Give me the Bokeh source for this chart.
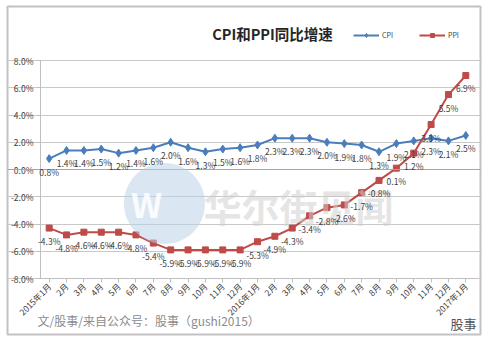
import math
from bokeh.plotting import figure
from bokeh.models import (Range1d, FixedTicker, PrintfTickFormatter, ColumnDataSource,
                          LabelSet, Label, Legend, LegendItem, Span)
from bokeh.core.properties import value
from bokeh.embed import file_html
from bokeh.resources import INLINE

months = ["2015年1月", "2月", "3月", "4月", "5月", "6月", "7月", "8月", "9月", "10月", "11月", "12月",
          "2016年1月", "2月", "3月", "4月", "5月", "6月", "7月", "8月", "9月", "10月", "11月", "12月",
          "2017年1月"]
cpi = [0.8, 1.4, 1.4, 1.5, 1.2, 1.4, 1.6, 2.0, 1.6, 1.3, 1.5, 1.6,
       1.8, 2.3, 2.3, 2.3, 2.0, 1.9, 1.8, 1.3, 1.9, 2.1, 2.3, 2.1,
       2.5]
ppi = [-4.3, -4.8, -4.6, -4.6, -4.6, -4.8, -5.4, -5.9, -5.9, -5.9, -5.9, -5.9,
       -5.3, -4.9, -4.3, -3.4, -2.8, -2.6, -1.7, -0.8, 0.1, 1.2, 3.3, 5.5,
       6.9]
y_ticks = [-8, -6, -4, -2, 0, 2, 4, 6, 8]
title_text = "CPI和PPI同比增速"
caption = "文/股事/来自公众号：股事（gushi2015）"
signature = "股事"
watermark = "华尔街见闻"

FONT = "Noto Sans CJK SC"
CPI_C = "#4A7EBB"
PPI_C = "#BE4B48"

W, H = 490, 345
# outer chart box (the bokeh frame) in canvas pixels
FL, FT, FR, FB = 7, 6, 480, 334
# plot area inside the canvas: x 40..474, y 60 (8%) .. 278 (-8%)
PX_L, PX_R, PY_T, PY_B = 40, 474, 60, 278
n = len(months)
xu = (PX_R - PX_L) / n
yu = (PY_B - PY_T) / 16.0
x_start = -0.5 - (PX_L - FL) / xu
x_end = n - 0.5 + (FR - PX_R) / xu
y_end = 8 + (PY_T - FT) / yu
y_start = -8 - (FB - PY_B) / yu


def sx(xc):
    return xc - FL


def sy(yc):
    return FB - yc


xs = list(range(n))
src = ColumnDataSource(dict(
    x=xs, cpi=cpi, ppi=ppi,
    cpi_lbl=[f"{v:.1f}%" for v in cpi],
    ppi_lbl=[f"{v:.1f}%" for v in ppi],
))

p = figure(width=W, height=H, output_backend="svg", toolbar_location=None,
           x_range=Range1d(x_start, x_end), y_range=Range1d(y_start, y_end),
           min_border_left=FL, min_border_right=W - FR, min_border_top=FT, min_border_bottom=H - FB,
           background_fill_color="white", border_fill_color="white")
p.outline_line_color = "#c2c2c2"
p.outline_line_width = 2
p.xgrid.grid_line_color = None
p.ygrid.grid_line_color = "#c8c8c8"
p.ygrid.ticker = FixedTicker(ticks=y_ticks)
p.ygrid.bounds = (-0.5, n - 0.5)

# y axis, pinned at the left edge of the category span
p.yaxis.fixed_location = -0.5
p.yaxis.bounds = (-8, 8)
p.yaxis.ticker = FixedTicker(ticks=y_ticks)
p.yaxis.formatter = PrintfTickFormatter(format="%.1f%%")
p.yaxis.axis_line_color = "#bfbfbf"
p.yaxis.major_tick_line_color = "#bfbfbf"
p.yaxis.major_tick_out = 3
p.yaxis.major_tick_in = 0
p.yaxis.minor_tick_line_color = None
p.yaxis.major_label_text_font = FONT
p.yaxis.major_label_text_font_size = "8.5px"
p.yaxis.major_label_text_color = "#404040"
p.yaxis.major_label_standoff = 4

# x axis, pinned at -8%
p.xaxis.fixed_location = -8
p.xaxis.bounds = (-0.5, n - 0.5)
p.xaxis.ticker = FixedTicker(ticks=xs)
p.xaxis.major_label_overrides = {i: m for i, m in enumerate(months)}
p.xaxis.major_label_orientation = math.pi / 4
p.xaxis.axis_line_color = "#bfbfbf"
p.xaxis.major_tick_line_color = "#bfbfbf"
p.xaxis.major_tick_out = 4
p.xaxis.major_tick_in = 0
p.xaxis.minor_tick_line_color = None
p.xaxis.major_label_text_font = FONT
p.xaxis.major_label_text_font_size = "8.5px"
p.xaxis.major_label_text_color = "#404040"
p.xaxis.major_label_standoff = 2

# zero line
p.add_layout(Span(location=0, dimension="width", line_color="#a6a6a6", line_width=1))

# watermark
p.add_layout(Label(x=sx(164), y=sy(198), x_units="screen", y_units="screen", text="●",
                   text_font=FONT, text_font_size="90px", text_color="#bcd3ea",
                   text_alpha=0.55, text_align="center", text_baseline="middle"))
p.add_layout(Label(x=sx(146), y=sy(203), x_units="screen", y_units="screen", text="W",
                   text_font=FONT, text_font_size="34px", text_color="white",
                   text_alpha=0.85, text_align="center", text_baseline="middle",
                   text_font_style="bold"))
p.add_layout(Label(x=sx(298), y=sy(205), x_units="screen", y_units="screen", text=watermark,
                   text_font=FONT, text_font_size="38px", text_color="#cfcfcf",
                   text_alpha=0.55, text_align="center", text_baseline="middle",
                   text_font_style="bold"))

# lines
r_cpi_l = p.line("x", "cpi", source=src, line_color=CPI_C, line_width=2)
r_cpi_m = p.scatter("x", "cpi", source=src, marker="diamond", size=8, fill_color=CPI_C, line_color=CPI_C)
r_ppi_l = p.line("x", "ppi", source=src, line_color=PPI_C, line_width=2)
r_ppi_m = p.scatter("x", "ppi", source=src, marker="square", size=6, fill_color=PPI_C, line_color=PPI_C)

for col, ycol in (("cpi_lbl", "cpi"), ("ppi_lbl", "ppi")):
    p.add_layout(LabelSet(x="x", y=ycol, text=col, source=src, y_offset=-13,
                          text_align="center", text_baseline="middle",
                          text_font=value(FONT), text_font_size="8.5px", text_color="#404040"))

# title
p.add_layout(Label(x=sx(272), y=sy(33), x_units="screen", y_units="screen", text=title_text,
                   text_font=FONT, text_font_size="14.5px", text_font_style="bold",
                   text_color="#262626", text_align="center", text_baseline="middle"))

legend = Legend(items=[LegendItem(label="CPI", renderers=[r_cpi_l, r_cpi_m]),
                       LegendItem(label="PPI", renderers=[r_ppi_l, r_ppi_m])],
                orientation="horizontal", location=(sx(353), sy(40)),
                label_text_font=FONT, label_text_font_size="7px", label_text_color="#404040",
                glyph_width=26, glyph_height=10, spacing=17, padding=2, margin=0,
                label_standoff=3, background_fill_alpha=0, border_line_color=None)
p.add_layout(legend, "center")

# caption and signature
p.add_layout(Label(x=sx(37), y=sy(320), x_units="screen", y_units="screen", text=caption,
                   text_font=FONT, text_font_size="12px", text_color="#8c8c8c",
                   text_align="left", text_baseline="middle"))
p.add_layout(Label(x=sx(476), y=sy(323), x_units="screen", y_units="screen", text=signature,
                   text_font=FONT, text_font_size="13px", text_color="#555555",
                   text_align="right", text_baseline="middle"))

open("out.html", "w").write(file_html(p, INLINE))
